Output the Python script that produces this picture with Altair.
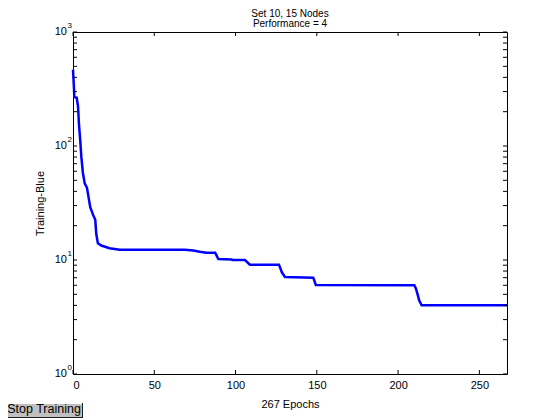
import altair as alt
import pandas as pd

# ---- data ----
epochs = [0, 0.6, 0.8, 2.3, 3.1, 3.7, 4.5, 5.1, 6.1, 7.2, 8.6, 9.8, 10.6, 12.3, 13.7,
          14.3, 15.3, 17.4, 22.5, 28.7, 40, 68.7, 74, 78, 82, 87.4, 88, 89.4, 97.6, 98,
          105.8, 108.8, 126.7, 127.5, 128.5, 130.4, 147.8, 149.4, 210, 211, 212, 213,
          214.5, 267]
perf = [467, 322, 269, 265, 222, 153, 110, 81, 58, 47, 43, 34, 29, 25, 22.5,
        17, 14, 13.4, 12.7, 12.3, 12.3, 12.3, 12.1, 11.8, 11.6, 11.6, 11.2, 10.2, 10.1, 10.0,
        10.0, 9.1, 9.1, 8.5, 7.8, 7.1, 7.0, 6.05, 6.0, 5.6, 5.0, 4.4,
        4.0, 4.0]
x_ticks = [0, 50, 100, 150, 200, 250]
y_major = [1, 10, 100, 1000]
y_exps = ["0", "1", "2", "3"]
y_minor = [m * d for d in (1, 10, 100) for m in range(2, 10)]
title_lines = ["Set 10, 15 Nodes", "Performance = 4"]
x_title = "267 Epochs"
y_title = "Training-Blue"
button_label = ["Stop Training"]

W, H = 434, 342
FONT = "Liberation Sans"

df = pd.DataFrame({"epoch": epochs, "perf": perf})
xt = pd.DataFrame({"x": x_ticks})
ymaj = pd.DataFrame({"y": y_major, "e": y_exps})
yall = pd.DataFrame({"y": y_major + y_minor})
btn = pd.DataFrame({"label": button_label})
t1 = pd.DataFrame({"t": [title_lines[0]]})
t2 = pd.DataFrame({"t": [title_lines[1]]})

xs = alt.Scale(domain=[0, 267], nice=False, zero=False)
ys = alt.Scale(type="log", domain=[1, 1000], nice=False)

line = alt.Chart(df).mark_line(color="#0000ff", strokeWidth=2.5).encode(
    x=alt.X("epoch:Q", scale=xs,
            axis=alt.Axis(values=x_ticks, title=x_title, ticks=False, domain=False,
                          grid=False, labelPadding=5, titlePadding=8,
                          labelFont=FONT, titleFont=FONT, labelFontSize=11,
                          titleFontSize=11, titleFontWeight="normal",
                          labelColor="black", titleColor="black")),
    y=alt.Y("perf:Q", scale=ys,
            axis=alt.Axis(labels=False, ticks=False, domain=False, grid=False,
                          title=y_title, titlePadding=28, titleFont=FONT,
                          titleFontSize=11, titleFontWeight="normal",
                          titleColor="black")),
)

tick_bottom = alt.Chart(xt).mark_rule(color="black").encode(
    x=alt.X("x:Q", scale=xs), y=alt.value(H), y2=alt.value(H - 4))
tick_top = alt.Chart(xt).mark_rule(color="black").encode(
    x=alt.X("x:Q", scale=xs), y=alt.value(0), y2=alt.value(4))
tick_left = alt.Chart(yall).mark_rule(color="black").encode(
    y=alt.Y("y:Q", scale=ys), x=alt.value(0), x2=alt.value(4))
tick_right = alt.Chart(yall).mark_rule(color="black").encode(
    y=alt.Y("y:Q", scale=ys), x=alt.value(W), x2=alt.value(W - 4))

ylab = alt.Chart(ymaj).mark_text(align="right", baseline="middle", font=FONT,
                                 fontSize=11, color="black").encode(
    y=alt.Y("y:Q", scale=ys), x=alt.value(-6), text=alt.value("10"))
yexp = alt.Chart(ymaj).mark_text(align="left", baseline="middle", font=FONT,
                                 fontSize=8, color="black", dy=-6).encode(
    y=alt.Y("y:Q", scale=ys), x=alt.value(-5.5), text="e:N")

title1 = alt.Chart(t1).mark_text(align="center", baseline="alphabetic", font=FONT,
                                 fontSize=10, color="black").encode(
    x=alt.value(W / 2), y=alt.value(-15), text="t:N")
title2 = alt.Chart(t2).mark_text(align="center", baseline="alphabetic", font=FONT,
                                 fontSize=10, color="black").encode(
    x=alt.value(W / 2), y=alt.value(-5), text="t:N")

bx0, bx1, by0, by1 = -70, 10, 371, 386
btn_rect = alt.Chart(btn).mark_rect(fill="#c0c0c0").encode(
    x=alt.value(bx0), x2=alt.value(bx1), y=alt.value(by0), y2=alt.value(by1))
btn_top = alt.Chart(btn).mark_rule(color="white").encode(
    x=alt.value(bx0), x2=alt.value(bx1), y=alt.value(by0 + 0.5))
btn_left = alt.Chart(btn).mark_rule(color="white").encode(
    x=alt.value(bx0 + 0.5), y=alt.value(by0), y2=alt.value(by1))
btn_right = alt.Chart(btn).mark_rule(color="#202020").encode(
    x=alt.value(bx1 - 0.5), y=alt.value(by0), y2=alt.value(by1))
btn_bottom = alt.Chart(btn).mark_rule(color="#202020").encode(
    x=alt.value(bx0), x2=alt.value(bx1), y=alt.value(by1 - 0.5))
btn_text = alt.Chart(btn).mark_text(align="center", baseline="alphabetic", font=FONT,
                                    fontSize=12.5, color="black").encode(
    x=alt.value((bx0 + bx1) / 2 + 1), y=alt.value(by0 + 10), text="label:N")

chart = alt.layer(
    line, tick_bottom, tick_top, tick_left, tick_right, ylab, yexp, title1, title2,
    btn_rect, btn_top, btn_left, btn_right, btn_bottom, btn_text
).properties(
    width=W, height=H,
    autosize=alt.AutoSizeParams(type="none"),
    padding={"left": 65, "top": 24, "right": 45, "bottom": 46},
    background="white",
).configure_view(stroke="black", strokeWidth=1)

chart.save("out.html", embed_options={"renderer": "svg", "actions": False})
